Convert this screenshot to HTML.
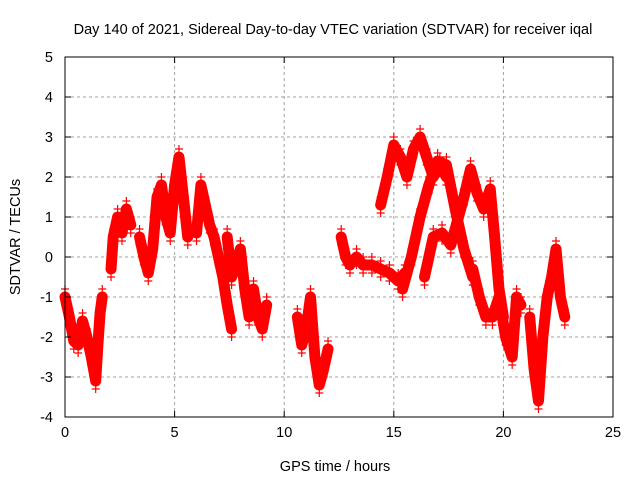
<!DOCTYPE html>
<html><head><meta charset="utf-8"><style>
body{margin:0;background:#fff}
svg{display:block;font-family:"Liberation Sans",Arial,sans-serif}
</style></head><body>
<svg id="chart" width="640" height="480">
<rect width="640" height="480" fill="#fff"/>
<text x="333" y="34" font-size="14.5" text-anchor="middle">Day 140 of 2021, Sidereal Day-to-day VTEC variation (SDTVAR) for receiver iqal</text>
<g id="grid"></g>
<g id="marks"></g>
<rect x="65" y="57" width="548" height="360" fill="none" stroke="#000" stroke-width="1"/>
<g id="ticks"></g>
<text x="335" y="471" font-size="14.5" text-anchor="middle">GPS time / hours</text>
<text transform="translate(20,237) rotate(-90)" font-size="14.5" text-anchor="middle">SDTVAR / TECUs</text>
</svg>
<script>
const xTicks=[0,5,10,15,20,25];
const yTicks=[-4,-3,-2,-1,0,1,2,3,4,5];
const trackA_t=[0.0,0.2,0.4,0.6,0.8,1.0,1.2,1.4,1.5,1.6,1.7];
const trackA_v=[-1.0,-1.5,-2.1,-2.2,-1.6,-2.0,-2.5,-3.1,-2.2,-1.4,-1.0];
const trackB_t=[2.1,2.2,2.4,2.6,2.8,3.0];
const trackB_v=[-0.3,0.5,1.0,0.6,1.2,0.8];
const trackC_t=[3.4,3.6,3.8,4.0,4.2,4.4,4.6,4.8,5.0,5.2,5.4,5.6];
const trackC_v=[0.5,0.0,-0.4,0.2,1.5,1.8,1.0,0.6,1.8,2.5,1.5,0.5];
const trackD_t=[6.0,6.2,6.4,6.6,6.8,7.0,7.2,7.4,7.6];
const trackD_v=[0.6,1.8,1.3,0.8,0.5,0.0,-0.5,-1.2,-1.8];
const trackE_t=[7.4,7.6,7.8,8.0,8.2,8.4,8.6,8.8,9.0,9.2];
const trackE_v=[0.5,-0.5,-0.2,0.2,-0.8,-1.5,-0.8,-1.5,-1.8,-1.2];
const trackF_t=[10.6,10.8,11.0,11.2,11.4,11.6,11.8,12.0];
const trackF_v=[-1.5,-2.2,-1.8,-1.0,-2.5,-3.2,-2.8,-2.3];
const trackG_t=[12.6,12.8,13.0,13.3,13.6,14.0,14.4,14.8,15.2,15.5];
const trackG_v=[0.5,0.0,-0.2,0.0,-0.2,-0.2,-0.3,-0.4,-0.6,-0.4];
const trackH_t=[14.4,14.7,15.0,15.3,15.6,15.9,16.2,16.5,16.8,17.1,17.4];
const trackH_v=[1.3,2.0,2.8,2.5,2.0,2.7,3.0,2.5,2.0,2.3,2.0];
const trackI_t=[15.4,15.8,16.2,16.6,17.0,17.4,17.8,18.2,18.6];
const trackI_v=[-0.8,0.0,1.0,1.8,2.4,2.3,1.2,0.2,-0.5];
const trackJ_t=[16.4,16.8,17.2,17.6,18.2,18.5,18.8,19.1,19.4,19.6,19.8,20.0];
const trackJ_v=[-0.5,0.5,0.6,0.3,1.5,2.2,1.6,1.2,1.7,0.5,-0.8,-1.5];
const trackK_t=[18.6,18.9,19.2,19.5,19.8,20.1,20.4,20.6,20.8];
const trackK_v=[-0.3,-1.0,-1.5,-1.5,-1.0,-2.0,-2.5,-1.0,-1.2];
const trackL_t=[21.2,21.4,21.6,21.8,22.0,22.2,22.4,22.6,22.8];
const trackL_v=[-1.5,-2.8,-3.6,-2.0,-1.0,-0.5,0.2,-1.0,-1.5];
const tracks=[[trackA_t,trackA_v],[trackB_t,trackB_v],[trackC_t,trackC_v],[trackD_t,trackD_v],[trackE_t,trackE_v],[trackF_t,trackF_v],[trackG_t,trackG_v],[trackH_t,trackH_v],[trackI_t,trackI_v],[trackJ_t,trackJ_v],[trackK_t,trackK_v],[trackL_t,trackL_v]];
const NS="http://www.w3.org/2000/svg";
const X0=65,X1=613,Y0=417,Y1=57;
function xs(t){return X0+(t-0)/(25-0)*(X1-X0);}
function ys(v){return Y0-(v-(-4))/(5-(-4))*(Y0-Y1);}
function mk(tag,attrs,parent){const e=document.createElementNS(NS,tag);for(const k in attrs)e.setAttribute(k,attrs[k]);parent.appendChild(e);return e;}
const grid=document.getElementById('grid'),ticks=document.getElementById('ticks'),marks=document.getElementById('marks');
xTicks.forEach(t=>{const x=xs(t);
 if(t>0&&t<25){const g=mk('line',{x1:x,y1:Y0,x2:x,y2:Y1,stroke:'#a0a0a0','stroke-dasharray':'3,3'},grid);
 
 }
 mk('line',{x1:x,y1:Y0,x2:x,y2:Y0-6,stroke:'#000'},ticks);mk('line',{x1:x,y1:Y1,x2:x,y2:Y1+6,stroke:'#000'},ticks);
 const l=mk('text',{x:x,y:Y0+20,'font-size':14.5,'text-anchor':'middle'},ticks);l.textContent=t;
 
 });
yTicks.forEach(v=>{const y=ys(v);
 if(v>-4&&v<5){const g=mk('line',{x1:X0,y1:y,x2:X1,y2:y,stroke:'#a0a0a0','stroke-dasharray':'3,3'},grid);
 
 }
 mk('line',{x1:X0,y1:y,x2:X0+6,y2:y,stroke:'#000'},ticks);mk('line',{x1:X1,y1:y,x2:X1-6,y2:y,stroke:'#000'},ticks);
 const l=mk('text',{x:X0-12,y:y+5,'font-size':14.5,'text-anchor':'end'},ticks);l.textContent=v;
 
 });
tracks.forEach((tr,i)=>{const [T,V]=tr;
 const pts=T.map((t,j)=>xs(t)+','+ys(V[j])).join(' ');
 const pl=mk('polyline',{points:pts,fill:'none',stroke:'#f00','stroke-width':11,'stroke-linejoin':'round','stroke-linecap':'round'},marks);
 
 
 T.forEach((t,j)=>{const x=xs(t),y=ys(V[j]);
  const p=mk('path',{d:`M${x-4},${y-8}h8M${x},${y-12}v8M${x-4},${y+8}h8M${x},${y+4}v8`,stroke:'#f00','stroke-width':1.2},marks);
  
  });
});
</script>
</body></html>
